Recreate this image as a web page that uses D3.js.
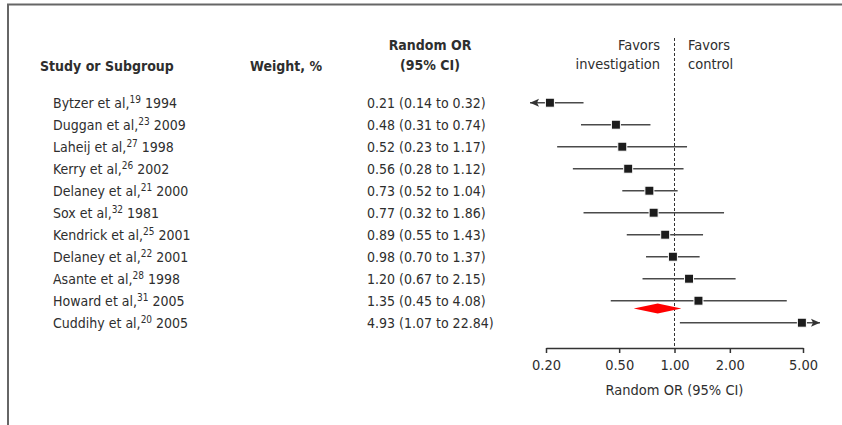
<!DOCTYPE html>
<html>
<head>
<meta charset="utf-8">
<script src="https://cdn.jsdelivr.net/npm/d3@7/dist/d3.min.js"></script>
<style>
	body { margin: 0; background: #fff; }
	svg { display: block; }
</style>
</head>
<body>
<div id="container"></div>
<script>
// study rows, top to bottom
const studies = ['Bytzer et al,', 'Duggan et al,', 'Laheij et al,', 'Kerry et al,', 'Delaney et al,', 'Sox et al,', 'Kendrick et al,', 'Delaney et al,', 'Asante et al,', 'Howard et al,', 'Cuddihy et al,'];
const refs = ['19', '23', '27', '26', '21', '32', '25', '22', '28', '31', '20'];
const years = ['1994', '2009', '1998', '2002', '2000', '1981', '2001', '2001', '1998', '2005', '2005'];
const oddsRatio = [0.21, 0.48, 0.52, 0.56, 0.73, 0.77, 0.89, 0.98, 1.20, 1.35, 4.93];
const ciLow = [0.14, 0.31, 0.23, 0.28, 0.52, 0.32, 0.55, 0.70, 0.67, 0.45, 1.07];
const ciHigh = [0.32, 0.74, 1.17, 1.12, 1.04, 1.86, 1.43, 1.37, 2.15, 4.08, 22.84];
// pooled random-effects estimate: OR, low, high (read off the diamond)
const pooled = [0.81, 0.60, 1.09];
const tickValues = [0.2, 0.5, 1, 2, 5];
const axisTitle = 'Random OR (95% CI)';

window.onload = function () {
	'use strict';
	let options = {
		width: 842,
		height: 425,
		font: "'Liberation Sans Narrow', 'DejaVu Sans Condensed', 'Arial Narrow', sans-serif",
		textColor: '#2e2e2e',
	};

	let svg = d3
		.select('#container')
		.append('svg')
		.attr('width', options.width)
		.attr('height', options.height)
		.style('font-family', options.font)
		.style('font-stretch', 'condensed');

	// frame (top and left edges visible)
	svg.append('path')
		.attr('d', 'M8,' + options.height + 'V4.5H' + options.width)
		.attr('fill', 'none')
		.attr('stroke', '#666')
		.attr('stroke-width', 2);

	let x = d3.scaleLog().domain([0.2, 5]).range([546, 803]);
	let y = d3.scaleLinear().domain([0, studies.length - 1]).range([102.7, 322.7]);
	let axisY = 348;

	// headers
	let head = svg.append('g').attr('fill', options.textColor).attr('font-weight', 'bold').attr('font-size', 14);
	head.append('text').attr('x', 40).attr('y', 71).text('Study or Subgroup');
	head.append('text').attr('x', 250).attr('y', 71).text('Weight, %');
	head.append('text').attr('x', 430).attr('y', 50).attr('text-anchor', 'middle').text('Random OR');
	head.append('text').attr('x', 430).attr('y', 70).attr('text-anchor', 'middle').text('(95% CI)');

	let fav = svg.append('g').attr('fill', options.textColor).attr('font-size', 14.5);
	fav.append('text').attr('x', 660).attr('y', 50).attr('text-anchor', 'end').text('Favors');
	fav.append('text').attr('x', 660).attr('y', 69).attr('text-anchor', 'end').text('investigation');
	fav.append('text').attr('x', 688).attr('y', 50).text('Favors');
	fav.append('text').attr('x', 688).attr('y', 69).text('control');

	// study labels
	let labels = svg.append('g').attr('fill', options.textColor).attr('font-size', 14)
		.selectAll('text').data(studies).enter().append('text')
		.attr('x', 53)
		.attr('y', (d, i) => y(i) + 5);
	labels.append('tspan').text((d) => d);
	labels.append('tspan').attr('font-size', 10).attr('dy', -5).text((d, i) => refs[i]);
	labels.append('tspan').attr('dy', 5).text((d, i) => ' ' + years[i]);

	svg.append('g').attr('fill', options.textColor).attr('font-size', 14)
		.selectAll('text').data(oddsRatio).enter().append('text')
		.attr('x', 367)
		.attr('y', (d, i) => y(i) + 5)
		.text((d, i) => d.toFixed(2) + ' (' + ciLow[i].toFixed(2) + ' to ' + ciHigh[i].toFixed(2) + ')');

	// null line
	svg.append('line')
		.attr('x1', x(1)).attr('x2', x(1))
		.attr('y1', 38).attr('y2', axisY)
		.attr('stroke', '#333')
		.attr('stroke-width', 1)
		.attr('stroke-dasharray', '3,2');

	// CI lines, clipped with arrows beyond the axis
	let minX = x.range()[0] - 16;
	let maxX = x.range()[1] + 17;
	let ci = svg.append('g');
	oddsRatio.forEach((d, i) => {
		let x1 = Math.max(x(ciLow[i]), minX);
		let x2 = Math.min(x(ciHigh[i]), maxX);
		let yy = y(i);
		ci.append('line')
			.attr('x1', x1).attr('x2', x2)
			.attr('y1', yy).attr('y2', yy)
			.attr('stroke', '#4a4a4a')
			.attr('stroke-width', 1.5);
		if (x(ciLow[i]) < minX) {
			ci.append('path')
				.attr('d', 'M' + minX + ',' + yy + 'l9,-4l-2,4l2,4z')
				.attr('fill', '#333');
		}
		if (x(ciHigh[i]) > maxX) {
			ci.append('path')
				.attr('d', 'M' + maxX + ',' + yy + 'l-9,-4l2,4l-2,4z')
				.attr('fill', '#333');
		}
	});

	// point estimates
	svg.append('g').selectAll('rect').data(oddsRatio).enter().append('rect')
		.attr('x', (d) => x(d) - 4.5)
		.attr('y', (d, i) => y(i) - 4.5)
		.attr('width', 9)
		.attr('height', 9)
		.attr('fill', '#1c1c1c')
		.attr('stroke', '#fff')
		.attr('stroke-width', 1);

	// pooled diamond
	let dy = y(9.35);
	svg.append('path')
		.attr('d', 'M' + x(pooled[1]) + ',' + dy + 'L' + x(pooled[0]) + ',' + (dy - 5) + 'L' + x(pooled[2]) + ',' + dy + 'L' + x(pooled[0]) + ',' + (dy + 5) + 'Z')
		.attr('fill', '#ff0000');

	// axis
	let axis = svg.append('g')
		.attr('transform', 'translate(0,' + axisY + ')')
		.call(d3.axisBottom(x).tickValues(tickValues).tickFormat(d3.format('.2f')).tickSize(5).tickSizeOuter(0).tickPadding(7));
	axis.select('.domain').attr('stroke', '#333').attr('stroke-width', 1.5);
	axis.selectAll('.tick line').attr('stroke', '#333').attr('stroke-width', 1.5);
	axis.selectAll('.tick text').attr('fill', options.textColor).attr('font-size', 14.5).attr('font-family', options.font);

	svg.append('text')
		.attr('x', (x.range()[0] + x.range()[1]) / 2)
		.attr('y', 395)
		.attr('text-anchor', 'middle')
		.attr('fill', options.textColor)
		.attr('font-size', 14.5)
		.text(axisTitle);
};
</script>
</body>
</html>
